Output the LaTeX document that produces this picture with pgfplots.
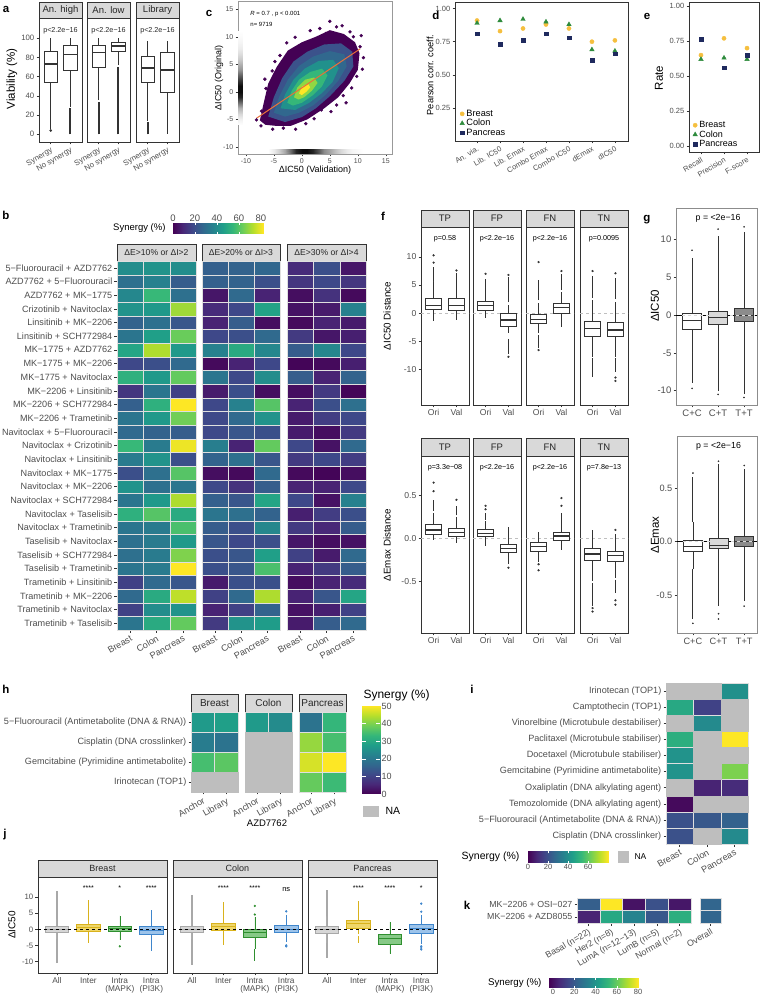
\documentclass[border=0pt]{standalone}
\usepackage{fontspec}
\setmainfont{Liberation Sans}
\usepackage{pgfplots}
\usepackage{pgfplotstable}
\pgfplotsset{compat=1.18}
\usepgfplotslibrary{statistics}
\definecolor{dk}{HTML}{333333}
\definecolor{tk}{HTML}{4D4D4D}
\definecolor{stripc}{HTML}{D9D9D9}
\definecolor{nagray}{HTML}{BEBEBE}
\definecolor{cB}{HTML}{F5BF3F}
\definecolor{cC}{HTML}{2E8B3C}
\definecolor{cP}{HTML}{1F2A5E}
\definecolor{redline}{HTML}{E8703A}
\definecolor{v1}{HTML}{440154}
\definecolor{v2}{HTML}{3B528B}
\definecolor{v3}{HTML}{31688E}
\definecolor{v4}{HTML}{21918C}
\definecolor{v5}{HTML}{35B779}
\definecolor{v6}{HTML}{90D743}
\definecolor{v7}{HTML}{FDE725}
\definecolor{jAllD}{HTML}{A8A8A8}\definecolor{jAllF}{HTML}{D6D6D6}
\definecolor{jIntD}{HTML}{D9B21C}\definecolor{jIntF}{HTML}{EFD66A}
\definecolor{jMapD}{HTML}{2F8F2F}\definecolor{jMapF}{HTML}{86C986}
\definecolor{jPiD}{HTML}{3F86CC}\definecolor{jPiF}{HTML}{9CC3EA}
\definecolor{gT}{HTML}{8C8C8C}
\newcommand{\fs}[1]{\fontsize{#1}{#1}\selectfont}
\pgfplotsset{colormap={wb}{color=(white) color=(black)}}
\pgfplotsset{colormap={vir}{rgb255=(68,1,84) rgb255=(72,40,120) rgb255=(62,73,137) rgb255=(49,104,142) rgb255=(38,130,142) rgb255=(31,158,137) rgb255=(53,183,121) rgb255=(110,206,88) rgb255=(181,222,43) rgb255=(253,231,37)}}
\pgfdeclareplotmark{cellb}{\pgfpathrectangle{\pgfpoint{-13.15pt}{-6.835pt}}{\pgfpoint{26.3pt}{13.67pt}}\pgfusepathqfillstroke}
\pgfdeclareplotmark{cellh}{\pgfpathrectangle{\pgfpoint{-11.75pt}{-10.03pt}}{\pgfpoint{23.5pt}{20.06pt}}\pgfusepathqfillstroke}
\pgfdeclareplotmark{celli}{\pgfpathrectangle{\pgfpoint{-13.67pt}{-8.05pt}}{\pgfpoint{27.33pt}{16.1pt}}\pgfusepathqfillstroke}
\pgfdeclareplotmark{cellk}{\pgfpathrectangle{\pgfpoint{-11.4pt}{-6.25pt}}{\pgfpoint{22.8pt}{12.5pt}}\pgfusepathqfillstroke}
\pgfdeclareplotmark{cello}{\pgfpathrectangle{\pgfpoint{-10.5pt}{-6.25pt}}{\pgfpoint{21pt}{12.5pt}}\pgfusepathqfillstroke}
\pgfplotsset{
 gg/.style={scale only axis, anchor=south west, clip=false,
   axis line style={dk, line width=0.55pt},
   tick style={dk, line width=0.5pt}, tick align=outside, major tick length=2.5pt, tick pos=left,
   ticklabel style={font=\fs{7.8}, text=tk, inner sep=1pt},
   xticklabel style={yshift=-1pt}, yticklabel style={xshift=-1pt},
   /pgf/number format/assume math mode=true,
   boxplot/draw direction=y,
   boxplot/whisker extend=0, boxplot/box extend=0.7},
 xrot/.style={xticklabel style={rotate=30, anchor=north east, inner sep=1pt}},
 hm/.style={gg, colormap name=vir, y dir=reverse, ticklabel style={font=\fs{9.1}}},
 heat/.style={scatter, only marks, point meta=explicit, scatter/use mapped color={draw=white!75!gray, fill=mapped color}, mark options={line width=0.3pt}},
 na/.style={only marks, mark options={draw=nagray, fill=nagray, line width=0.3pt}},
 bA/.style={draw=dk, fill=white, line width=0.75pt, boxplot/every median/.style={line width=1.4pt}},
 jb/.style 2 args={draw=#1, fill=#2, line width=0.6pt, boxplot/every median/.style={line width=1pt}},
 cb/.style={scale only axis, anchor=south west, clip=false, colormap name=vir, axis line style={draw=none}, tick style={draw=none}, ticklabel style={font=\fs{7.5}, text=tk, inner sep=1.5pt}, /pgf/number format/assume math mode=true},
 dots/.style={only marks, mark=*, mark size=0.9pt, dk},
 ol/.style={dk, line width=1.3pt},
}
\newcommand{\bx}[7][bA]{\addplot[#1, boxplot prepared={draw position=#2, lower whisker=#3, lower quartile=#4, median=#5, upper quartile=#6, upper whisker=#7}] coordinates {};}
\newcommand{\strip}[4]{\draw[dk, line width=0.55pt, fill=stripc] (axis description cs:0,1) rectangle ([yshift=#1]axis description cs:1,1); \node[font=\fs{#3}, text=black!85] at ([yshift=#2]axis description cs:0.5,1) {#4};}

\pgfplotstableread{
r B1 C1 P1 B2 C2 P2 B3 C3 P3
0 40 42 40 25 26 27 10 20 5
1 30 36 24 25 26 20 13 18 13
2 38 55 30 5 28 8 3 12 2
3 42 44 70 10 18 47 4 6 36
4 26 30 22 8 24 3 2 8 6
5 32 46 63 18 20 28 14 5 7
6 48 72 44 36 50 38 24 38 18
7 18 20 28 2 8 18 1 2 7
8 52 44 62 32 18 40 24 8 26
9 13 32 16 6 20 3 3 14 1
10 25 52 82 18 36 60 8 20 30
11 32 44 64 18 28 42 6 15 18
12 28 26 24 18 22 20 6 3 14
13 55 34 80 35 8 62 18 4 28
14 34 42 20 26 30 22 14 18 15
15 20 30 60 3 2 28 2 1 3
16 42 30 32 18 12 24 8 8 18
17 32 44 72 25 22 48 18 4 36
18 52 60 50 32 30 26 7 15 20
19 32 34 58 24 20 38 14 9 24
20 30 34 44 22 18 20 5 3 4
21 30 34 66 20 22 46 16 6 28
22 32 34 82 20 22 58 8 14 24
23 16 28 22 6 20 20 3 8 10
24 28 50 74 16 28 72 8 22 48
25 16 40 42 8 16 26 4 7 16
26 32 50 62 14 42 45 6 24 28
}\tabB

\begin{document}
\begin{tikzpicture}[x=1pt,y=1pt]
\useasboundingbox (0,0) rectangle (762,999);
\foreach \t/\x/\y in {a/6/990,b/6/784,c/209/986,d/436/984,e/647/983,f/383/783,g/647/779,h/6/310,i/472/310,j/5/164,k/467/94}
  \node[font=\bfseries\fs{11.5}] at (\x,\y) {\t};
% axis titles
\node[rotate=90,font=\fs{11.5}] at (12,920) {Viability (\%)};
\node[rotate=90,font=\fs{9}] at (219,921) {ΔIC50 (Original)};
\node[font=\fs{9}] at (315,829) {ΔIC50 (Validation)};
\node[rotate=90,font=\fs{9.2}] at (430,924) {Pearson corr. coeff.};
\node[rotate=90,font=\fs{11.5}] at (659,921) {Rate};
\node[rotate=90,font=\fs{9.8}] at (387,683) {ΔIC50 Distance};
\node[rotate=90,font=\fs{9.8}] at (387,454) {ΔEmax Distance};
\node[rotate=90,font=\fs{11.5}] at (655,693) {ΔIC50};
\node[rotate=90,font=\fs{11.5}] at (655,464) {ΔEmax};
\node[rotate=90,font=\fs{10}] at (12,74) {ΔIC50};
\node[font=\fs{9.5}] at (267,176) {AZD7762};

% ================= a
\begin{axis}[gg, at={(39pt,857pt)}, width=43pt, height=124pt, xmin=0.4, xmax=2.6, ymin=-8, ymax=121, ytick={0,20,40,60,80,100}, xtick={1,2}, xticklabels={Synergy,No synergy}, xrot]
\strip{16pt}{8pt}{9.5}{An. high}
\node[font=\fs{7.2}, text=black!85] at (axis cs:1.5,108) {p<2.2e−16};
\addplot[dk, line width=2.4pt] coordinates {(2,0) (2,27)};
\addplot[dots, mark size=1.1pt] coordinates {(1,4)};
\bx{1}{5}{54}{73}{86}{100}
\bx{2}{28}{67}{83}{93}{100}
\end{axis}
\begin{axis}[gg, at={(87pt,857pt)}, width=43pt, height=124pt, xmin=0.4, xmax=2.6, ymin=-8, ymax=121, ytick=\empty, xtick={1,2}, xticklabels={Synergy,No synergy}, xrot]
\strip{16pt}{8pt}{9.5}{An. low}
\node[font=\fs{7.2}, text=black!85] at (axis cs:1.5,108) {p<2.2e−16};
\addplot[dk, line width=2pt] coordinates {(1,0) (1,34)};
\addplot[dk, line width=2.4pt] coordinates {(2,0) (2,70)};
\bx{1}{36}{70}{85}{93}{100}
\bx{2}{72}{86}{92}{96}{100}
\end{axis}
\begin{axis}[gg, at={(136pt,857pt)}, width=43pt, height=124pt, xmin=0.4, xmax=2.6, ymin=-8, ymax=121, ytick=\empty, xtick={1,2}, xticklabels={Synergy,No synergy}, xrot]
\strip{16pt}{8pt}{9.5}{Library}
\node[font=\fs{7.2}, text=black!85] at (axis cs:1.5,108) {p<2.2e−16};
\addplot[dk, line width=2pt] coordinates {(1,0) (1,13)};
\bx{1}{14}{54}{69}{81}{97}
\bx{2}{0}{44}{67}{85}{97}
\end{axis}

% ================= c
\begin{axis}[gg, at={(238pt,845pt)}, width=154pt, height=153pt, xmin=-11.4, xmax=16.1, ymin=-11.3, ymax=16.5, xtick={-10,-5,...,15}, ytick={-10,-5,...,15}, ticklabel style={font=\fs{7}}, axis line style={black!40, line width=0.5pt}, colormap name=wb, point meta min=0, point meta max=1]
\addplot[surf, shader=interp, point meta=explicit] coordinates {
(-6,-11.3) [0] (-5,-11.3) [0.08] (-4,-11.3) [0.18] (-3,-11.3) [0.35] (-2,-11.3) [0.6] (-1,-11.3) [0.85] (0,-11.3) [0.95] (1,-11.3) [0.95] (2,-11.3) [0.85] (3,-11.3) [0.65] (4,-11.3) [0.45] (5,-11.3) [0.35] (6,-11.3) [0.25] (7,-11.3) [0.15] (8,-11.3) [0.08] (9,-11.3) [0.04] (10,-11.3) [0.02] (11,-11.3) [0]

(-6,-10.4) [0] (-5,-10.4) [0.08] (-4,-10.4) [0.18] (-3,-10.4) [0.35] (-2,-10.4) [0.6] (-1,-10.4) [0.85] (0,-10.4) [0.95] (1,-10.4) [0.95] (2,-10.4) [0.85] (3,-10.4) [0.65] (4,-10.4) [0.45] (5,-10.4) [0.35] (6,-10.4) [0.25] (7,-10.4) [0.15] (8,-10.4) [0.08] (9,-10.4) [0.04] (10,-10.4) [0.02] (11,-10.4) [0]
};
\addplot[surf, shader=interp, point meta=explicit] coordinates {
(-11.4,-6) [0] (-11.4,-5) [0.06] (-11.4,-4) [0.15] (-11.4,-3) [0.3] (-11.4,-2) [0.55] (-11.4,-1) [0.85] (-11.4,0) [0.95] (-11.4,1) [0.95] (-11.4,2) [0.8] (-11.4,3) [0.6] (-11.4,4) [0.42] (-11.4,5) [0.3] (-11.4,6) [0.2] (-11.4,7) [0.12] (-11.4,8) [0.07] (-11.4,9) [0.04] (-11.4,10) [0.02] (-11.4,11) [0]

(-10.6,-6) [0] (-10.6,-5) [0.06] (-10.6,-4) [0.15] (-10.6,-3) [0.3] (-10.6,-2) [0.55] (-10.6,-1) [0.85] (-10.6,0) [0.95] (-10.6,1) [0.95] (-10.6,2) [0.8] (-10.6,3) [0.6] (-10.6,4) [0.42] (-10.6,5) [0.3] (-10.6,6) [0.2] (-10.6,7) [0.12] (-10.6,8) [0.07] (-10.6,9) [0.04] (-10.6,10) [0.02] (-10.6,11) [0]
};
\addplot[fill=v1, draw=none] coordinates {(-7.5,-5.2) (-6.8,-2) (-6,1.5) (-4.5,4.5) (-2.5,7.5) (0,9) (2.5,10) (5,11.2) (7.5,10.5) (9.5,9) (10.3,7) (10,4) (8.5,1.5) (6.5,-1) (4,-3) (1,-5) (-2,-6.2) (-4.5,-6.2) (-6.5,-6)};
\addplot[only marks, mark=*, mark size=1.5pt, v1] coordinates {(-8.1,-5.1) (-7.3,-6.2) (-6.6,2.3) (-5.3,3.8) (-3.9,6.6) (-2.7,8.9) (-1.2,9.9) (1.5,11.1) (3.2,11.5) (5,12.8) (6.2,11.8) (7.2,12) (8.6,10.9) (10.4,8.2) (11,6.2) (10.8,4.1) (9.8,2.8) (8.9,0.7) (7.4,-0.7) (6.2,-2.4) (3.5,-3.3) (2.2,-4.9) (0.7,-5.8) (-1.1,-6.8) (-3.3,-6.6) (-5.2,-6.8) (-6.4,0.6) (-7.2,-3.5) (4.3,10.6) (9.2,10) (10.6,10.2) (-4.8,5.5) (7.9,-2) (5.2,-3.6)};
\addplot[fill=v2, draw=none] coordinates {(-6,-4.5) (-5,-1) (-3.5,2.5) (-1.5,5.5) (1,7.3) (4,8.6) (7,8.8) (9,7.3) (9.2,4.6) (7.6,2) (5,-0.8) (2.5,-3) (0,-4.6) (-3,-5.5)};
\addplot[fill=v3, draw=none] coordinates {(-5,-3.8) (-4,-0.8) (-2.5,2.2) (-0.5,4.7) (2,6.4) (5,7.4) (7.6,6.8) (8,4.6) (6.5,2) (4.3,-0.5) (2,-2.5) (-0.5,-3.8) (-3,-4.5)};
\addplot[fill=v4, draw=none] coordinates {(-3.8,-3) (-3,-0.5) (-1.5,2.2) (0.5,4.2) (3,5.6) (5.6,5.8) (6.6,4.3) (5.5,1.8) (3.5,-0.3) (1.3,-2) (-1.2,-3.3)};
\addplot[fill=v5, draw=none] coordinates {(-2.6,-2) (-1.8,0.2) (-0.5,2.2) (1.5,3.6) (3.6,4.2) (4.6,3) (3.6,1) (2,-0.6) (0,-2) (-1.6,-2.5)};
\addplot[fill=v6, draw=none] coordinates {(-1.4,-1) (-0.8,0.8) (0.6,2.2) (2.2,2.6) (2.8,1.6) (1.8,0.2) (0.4,-1) (-0.6,-1.4)};
\addplot[fill=v7, draw=none] coordinates {(-0.5,-0.3) (0,0.9) (1.1,1.5) (1.5,0.8) (0.8,0) (0,-0.6)};
\addplot[redline, line width=1pt] coordinates {(-8.1,-4.8) (10.4,7.8)};
\node[anchor=west, font=\fs{6}] at (axis cs:-9.8,14.2) {\textit{R} = 0.7 , p < 0.001};
\node[anchor=west, font=\fs{6}] at (axis cs:-9.8,12.2) {n= 9719};
\end{axis}

% ================= d
\begin{axis}[gg, at={(455pt,858pt)}, width=173pt, height=139pt, xmin=0.04, xmax=7.57, ymin=0, ymax=1.05, ytick={0.25,0.5,0.75,1}, ticklabel style={font=\fs{7.5}}, yticklabel style={/pgf/number format/fixed, /pgf/number format/fixed zerofill, /pgf/number format/precision=2}, xtick={1,...,7}, xticklabels={An. via., Lib. IC50, Lib. Emax, Combo Emax, Combo IC50, dEmax, dIC50}, xrot, legend style={at={(0.01,0.0)}, anchor=south west, draw=none, fill=none, font=\fs{9.2}, row sep=-2.5pt}, legend cell align=left]
\addplot[only marks, mark=*, mark size=2.1pt, cB] coordinates {(1,0.91) (2,0.83) (3,0.85) (4,0.88) (5,0.85) (6,0.75) (7,0.76)};
\addplot[only marks, mark=triangle*, mark size=2.6pt, cC] coordinates {(1,0.89) (2,0.91) (3,0.92) (4,0.90) (5,0.88) (6,0.69) (7,0.68)};
\addplot[only marks, mark=square*, mark size=1.8pt, cP] coordinates {(1,0.81) (2,0.73) (3,0.76) (4,0.81) (5,0.78) (6,0.61) (7,0.66)};
\legend{Breast,Colon,Pancreas}
\end{axis}

% ================= e
\begin{axis}[gg, at={(689pt,847pt)}, width=70pt, height=150pt, xmin=0.48, xmax=3.52, ymin=-0.043, ymax=1.03, ytick={0,0.25,0.5,0.75,1}, ticklabel style={font=\fs{7.5}}, yticklabel style={/pgf/number format/fixed, /pgf/number format/fixed zerofill, /pgf/number format/precision=2}, xtick={1,2,3}, xticklabels={Recall,Precision,F-score}, xrot, legend style={at={(0.01,0.0)}, anchor=south west, draw=none, fill=none, font=\fs{9}, row sep=-2.5pt}, legend cell align=left]
\addplot[only marks, mark=*, mark size=2.1pt, cB] coordinates {(1,0.65) (2,0.77) (3,0.70)};
\addplot[only marks, mark=triangle*, mark size=2.6pt, cC] coordinates {(1,0.62) (2,0.63) (3,0.62)};
\addplot[only marks, mark=square*, mark size=1.8pt, cP] coordinates {(1,0.765) (2,0.56) (3,0.65)};
\legend{Breast,Colon,Pancreas}
\end{axis}

% ================= b
\begin{axis}[cb, at={(173pt,765pt)}, width=90pt, height=11pt, xmin=0, xmax=82, ymin=0, ymax=1, ytick=\empty, xtick={0,20,40,60,80}, xticklabel pos=upper, ticklabel style={font=\fs{9.5}}, point meta min=0, point meta max=82]
\addplot[surf, shader=interp, point meta=x] coordinates {(0,0) (82,0)

(0,1) (82,1)};
\addplot[white, line width=0.5pt, unbounded coords=jump] coordinates {(20,0) (20,0.2) (nan,nan) (20,0.8) (20,1) (nan,nan) (40,0) (40,0.2) (nan,nan) (40,0.8) (40,1) (nan,nan) (60,0) (60,0.2) (nan,nan) (60,0.8) (60,1)};
\end{axis}
\node[anchor=east, font=\fs{9.5}] at (169,771) {Synergy (\%)};
\begin{axis}[hm, at={(117pt,369pt)}, width=79pt, height=369pt, xmin=-0.5, xmax=2.5, ymin=-0.5, ymax=26.5, point meta min=0, point meta max=82, xtick={0,1,2}, xticklabels={Breast,Colon,Pancreas}, xrot, ytick={0,...,26}, yticklabels={5−Fluorouracil + AZD7762, AZD7762 + 5−Fluorouracil, AZD7762 + MK−1775, Crizotinib + Navitoclax, Linsitinib + MK−2206, Linsitinib + SCH772984, MK−1775 + AZD7762, MK−1775 + MK−2206, MK−1775 + Navitoclax, MK−2206 + Linsitinib, MK−2206 + SCH772984, MK−2206 + Trametinib, Navitoclax + 5−Fluorouracil, Navitoclax + Crizotinib, Navitoclax + Linsitinib, Navitoclax + MK−1775, Navitoclax + MK−2206, Navitoclax + SCH772984, Navitoclax + Taselisib, Navitoclax + Trametinib, Taselisib + Navitoclax, Taselisib + SCH772984, Taselisib + Trametinib, Trametinib + Linsitinib, Trametinib + MK−2206, Trametinib + Navitoclax, Trametinib + Taselisib}]
\addplot[heat, mark=cellb] table[x expr=0, y=r, meta=B1] {\tabB};
\addplot[heat, mark=cellb] table[x expr=1, y=r, meta=C1] {\tabB};
\addplot[heat, mark=cellb] table[x expr=2, y=r, meta=P1] {\tabB};
\strip{17pt}{8.5pt}{8.6}{ΔE>10\% or ΔI>2}
\end{axis}
\begin{axis}[hm, at={(202pt,369pt)}, width=78pt, height=369pt, xmin=-0.5, xmax=2.5, ymin=-0.5, ymax=26.5, point meta min=0, point meta max=82, xtick={0,1,2}, xticklabels={Breast,Colon,Pancreas}, xrot, ytick=\empty]
\addplot[heat, mark=cellb] table[x expr=0, y=r, meta=B2] {\tabB};
\addplot[heat, mark=cellb] table[x expr=1, y=r, meta=C2] {\tabB};
\addplot[heat, mark=cellb] table[x expr=2, y=r, meta=P2] {\tabB};
\strip{17pt}{8.5pt}{8.6}{ΔE>20\% or ΔI>3}
\end{axis}
\begin{axis}[hm, at={(287pt,369pt)}, width=79pt, height=369pt, xmin=-0.5, xmax=2.5, ymin=-0.5, ymax=26.5, point meta min=0, point meta max=82, xtick={0,1,2}, xticklabels={Breast,Colon,Pancreas}, xrot, ytick=\empty]
\addplot[heat, mark=cellb] table[x expr=0, y=r, meta=B3] {\tabB};
\addplot[heat, mark=cellb] table[x expr=1, y=r, meta=C3] {\tabB};
\addplot[heat, mark=cellb] table[x expr=2, y=r, meta=P3] {\tabB};
\strip{17pt}{8.5pt}{8.6}{ΔE>30\% or ΔI>4}
\end{axis}

% ================= f top
\begin{axis}[gg, at={(421pt,594pt)}, width=48pt, height=178pt, xmin=0.45, xmax=2.55, ymin=-16.4, ymax=15.36, ytick={-10,-5,0,5,10}, ticklabel style={font=\fs{8.6}}, xtick={1,2}, xticklabels={Ori,Val}]
\strip{17pt}{8.5pt}{9.5}{TP}
\addplot[gray!50, dashed, line width=0.7pt] coordinates {(0.45,0) (2.55,0)};
\node[font=\fs{7.2}] at (axis cs:1.5,13.2) {p=0.58};
\addplot[ol] coordinates {(1,5.6) (1,8.2)};
\addplot[ol] coordinates {(2,5.7) (2,7.2)};
\addplot[dots] coordinates {(1,9) (1,10.3) (2,7.6)};
\bx{1}{-1.5}{0.6}{1.4}{2.6}{5.6}
\bx{2}{-1.2}{0.5}{1.4}{2.6}{5.7}
\end{axis}
\begin{axis}[gg, at={(473pt,594pt)}, width=48pt, height=178pt, xmin=0.45, xmax=2.55, ymin=-16.4, ymax=15.36, ytick=\empty, ticklabel style={font=\fs{8.6}}, xtick={1,2}, xticklabels={Ori,Val}]
\strip{17pt}{8.5pt}{9.5}{FP}
\addplot[gray!50, dashed, line width=0.7pt] coordinates {(0.45,0) (2.55,0)};
\node[font=\fs{7.2}] at (axis cs:1.5,13.2) {p<2.2e−16};
\addplot[ol] coordinates {(1,4.5) (1,6)};
\addplot[ol] coordinates {(2,1.9) (2,6.4)};
\addplot[ol] coordinates {(2,-4.6) (2,-7.3)};
\addplot[dots] coordinates {(1,7) (2,6.8) (2,-7.8)};
\bx{1}{-0.9}{0.5}{1.3}{2.1}{4.5}
\bx{2}{-3.6}{-2.3}{-1.25}{0}{1.5}
\end{axis}
\begin{axis}[gg, at={(526pt,594pt)}, width=48pt, height=178pt, xmin=0.45, xmax=2.55, ymin=-16.4, ymax=15.36, ytick=\empty, ticklabel style={font=\fs{8.6}}, xtick={1,2}, xticklabels={Ori,Val}]
\strip{17pt}{8.5pt}{9.5}{FN}
\addplot[gray!50, dashed, line width=0.7pt] coordinates {(0.45,0) (2.55,0)};
\node[font=\fs{7.2}] at (axis cs:1.5,13.2) {p<2.2e−16};
\addplot[ol] coordinates {(1,2.3) (1,5.9)};
\addplot[ol] coordinates {(1,-4) (1,-6.2)};
\addplot[ol] coordinates {(2,4.2) (2,7)};
\addplot[dots] coordinates {(1,9.1) (1,-6.6) (2,7.5)};
\bx{1}{-3.6}{-1.9}{-1.1}{-0.2}{1.8}
\bx{2}{-2.4}{0}{0.95}{1.8}{3.8}
\end{axis}
\begin{axis}[gg, at={(580pt,594pt)}, width=48pt, height=178pt, xmin=0.45, xmax=2.55, ymin=-16.4, ymax=15.36, ytick=\empty, ticklabel style={font=\fs{8.6}}, xtick={1,2}, xticklabels={Ori,Val}]
\strip{17pt}{8.5pt}{9.5}{TN}
\addplot[gray!50, dashed, line width=0.7pt] coordinates {(0.45,0) (2.55,0)};
\node[font=\fs{7.2}] at (axis cs:1.5,13.2) {p=0.0095};
\addplot[ol] coordinates {(1,2.7) (1,6.6)};
\addplot[ol] coordinates {(1,-8.1) (1,-11.4)};
\addplot[ol] coordinates {(2,2.5) (2,6.3)};
\addplot[ol] coordinates {(2,-8.1) (2,-10.5)};
\addplot[dots] coordinates {(1,7.5) (2,7.1) (2,-11.5) (2,-12.1)};
\bx{1}{-7.8}{-4.1}{-2.7}{-1.5}{2.3}
\bx{2}{-7.8}{-4.2}{-3.0}{-1.7}{2.0}
\end{axis}

% ================= f bottom
\begin{axis}[gg, at={(421pt,366pt)}, width=48pt, height=177pt, xmin=0.45, xmax=2.55, ymin=-1.1, ymax=0.96, ytick={-0.5,0,0.5}, ticklabel style={font=\fs{8.6}}, yticklabel style={/pgf/number format/fixed, /pgf/number format/fixed zerofill, /pgf/number format/precision=1}, xtick={1,2}, xticklabels={Ori,Val}]
\strip{18pt}{9pt}{9.5}{TP}
\addplot[gray!50, dashed, line width=0.7pt] coordinates {(0.45,0) (2.55,0)};
\node[font=\fs{7.2}] at (axis cs:1.5,0.82) {p=3.3e−08};
\addplot[ol] coordinates {(1,0.32) (1,0.45)};
\addplot[ol] coordinates {(2,0.27) (2,0.38)};
\addplot[dots] coordinates {(1,0.55) (1,0.65) (2,0.45)};
\bx{1}{-0.02}{0.05}{0.1}{0.16}{0.3}
\bx{2}{-0.05}{0.03}{0.07}{0.12}{0.25}
\end{axis}
\begin{axis}[gg, at={(473pt,366pt)}, width=48pt, height=177pt, xmin=0.45, xmax=2.55, ymin=-1.1, ymax=0.96, ytick=\empty, ticklabel style={font=\fs{8.6}}, xtick={1,2}, xticklabels={Ori,Val}]
\strip{18pt}{9pt}{9.5}{FP}
\addplot[gray!50, dashed, line width=0.7pt] coordinates {(0.45,0) (2.55,0)};
\node[font=\fs{7.2}] at (axis cs:1.5,0.82) {p<2.2e−16};
\addplot[ol] coordinates {(1,0.22) (1,0.3)};
\addplot[dots] coordinates {(1,0.34) (1,0.38) (2,-0.34)};
\bx{1}{-0.09}{0.02}{0.06}{0.107}{0.2}
\bx{2}{-0.3}{-0.165}{-0.115}{-0.064}{0.13}
\end{axis}
\begin{axis}[gg, at={(526pt,366pt)}, width=48pt, height=177pt, xmin=0.45, xmax=2.55, ymin=-1.1, ymax=0.96, ytick=\empty, ticklabel style={font=\fs{8.6}}, xtick={1,2}, xticklabels={Ori,Val}]
\strip{18pt}{9pt}{9.5}{FN}
\addplot[gray!50, dashed, line width=0.7pt] coordinates {(0.45,0) (2.55,0)};
\node[font=\fs{7.2}] at (axis cs:1.5,0.82) {p<2.2e−16};
\addplot[ol] coordinates {(2,0.22) (2,0.3)};
\addplot[dots] coordinates {(1,-0.3) (1,-0.37) (2,0.38) (2,0.47)};
\bx{1}{-0.27}{-0.145}{-0.095}{-0.05}{0.07}
\bx{2}{-0.13}{-0.025}{0.03}{0.068}{0.21}
\end{axis}
\begin{axis}[gg, at={(580pt,366pt)}, width=48pt, height=177pt, xmin=0.45, xmax=2.55, ymin=-1.1, ymax=0.96, ytick=\empty, ticklabel style={font=\fs{8.6}}, xtick={1,2}, xticklabels={Ori,Val}]
\strip{18pt}{9pt}{9.5}{TN}
\addplot[gray!50, dashed, line width=0.7pt] coordinates {(0.45,0) (2.55,0)};
\node[font=\fs{7.2}] at (axis cs:1.5,0.82) {p=7.8e−13};
\addplot[ol] coordinates {(1,-0.52) (1,-0.78)};
\addplot[ol] coordinates {(2,-0.48) (2,-0.63)};
\addplot[dots] coordinates {(1,-0.81) (1,-0.85) (2,0.1) (2,-0.72) (2,-0.77)};
\bx{1}{-0.5}{-0.26}{-0.18}{-0.115}{0.1}
\bx{2}{-0.46}{-0.27}{-0.2}{-0.145}{0.05}
\end{axis}

% ================= g
\begin{axis}[gg, at={(676pt,594pt)}, width=81pt, height=197pt, xmin=0.38, xmax=3.5, ymin=-11.9, ymax=14.2, ytick={-10,-5,0,5,10}, ticklabel style={font=\fs{9.5}}, xtick={1,2,3}, xticklabels={C+C,C+T,T+T}, axis line style={black!45}, boxplot/box extend=0.75]
\node[font=\fs{8.8}] at (axis cs:2,12.8) {p = <2e−16};
\addplot[black, line width=0.6pt] coordinates {(0.38,0) (3.5,0)};
\addplot[dk, line width=0.9pt] coordinates {(1,3.2) (1,7.6)};
\addplot[dk, line width=0.9pt] coordinates {(1,-4.9) (1,-9)};
\addplot[dk, line width=0.9pt] coordinates {(2,3.1) (2,10.5)};
\addplot[dk, line width=0.9pt] coordinates {(2,-3.9) (2,-10)};
\addplot[dk, line width=0.9pt] coordinates {(3,3.5) (3,11)};
\addplot[dk, line width=0.9pt] coordinates {(3,-3.5) (3,-10.5)};
\addplot[dots, mark size=0.6pt] coordinates {(1,8.6) (1,-9.7) (2,11.4) (2,-10.5) (3,11.7) (3,-10.9)};
\bx[draw=dk, fill=white, line width=0.7pt]{1}{-4.9}{-1.85}{-0.66}{0.2}{3.2}
\bx[draw=dk, fill=stripc, line width=0.7pt]{2}{-3.9}{-1.23}{-0.35}{0.53}{3.1}
\bx[draw=dk, fill=gT, line width=0.7pt]{3}{-3.5}{-0.88}{0}{0.88}{3.5}
\addplot[white!70!gray, dashed, line width=0.6pt] coordinates {(0.6,0) (3.4,0)};
\end{axis}
\begin{axis}[gg, at={(677pt,366pt)}, width=80pt, height=197pt, xmin=0.38, xmax=3.5, ymin=-0.85, ymax=0.985, ytick={-0.5,0,0.5}, ticklabel style={font=\fs{9.2}}, yticklabel style={/pgf/number format/fixed, /pgf/number format/fixed zerofill, /pgf/number format/precision=1}, xtick={1,2,3}, xticklabels={C+C,C+T,T+T}, axis line style={black!45}, boxplot/box extend=0.75]
\node[font=\fs{8.8}] at (axis cs:2,0.89) {p = <2e−16};
\addplot[black, line width=0.6pt] coordinates {(0.38,0) (3.5,0)};
\addplot[dk, line width=0.9pt] coordinates {(1,0.18) (1,0.6)};
\addplot[dk, line width=0.9pt] coordinates {(1,-0.25) (1,-0.72)};
\addplot[dk, line width=0.9pt] coordinates {(2,0.16) (2,0.72)};
\addplot[dk, line width=0.9pt] coordinates {(2,-0.2) (2,-0.6)};
\addplot[dk, line width=0.9pt] coordinates {(3,0.2) (3,0.68)};
\addplot[dk, line width=0.9pt] coordinates {(3,-0.2) (3,-0.55)};
\addplot[dots, mark size=0.6pt] coordinates {(1,0.64) (1,-0.76) (2,0.75) (2,-0.67) (2,-0.72) (3,0.71) (3,-0.6)};
\bx[draw=dk, fill=white, line width=0.7pt]{1}{-0.25}{-0.093}{-0.04}{0.016}{0.18}
\bx[draw=dk, fill=stripc, line width=0.7pt]{2}{-0.2}{-0.06}{-0.03}{0.03}{0.16}
\bx[draw=dk, fill=gT, line width=0.7pt]{3}{-0.2}{-0.047}{0}{0.053}{0.2}
\addplot[white!70!gray, dashed, line width=0.6pt] coordinates {(0.6,0) (3.4,0)};
\end{axis}

% ================= h
\begin{axis}[hm, at={(191pt,207pt)}, width=47pt, height=80pt, xmin=-0.5, xmax=1.5, ymin=-0.5, ymax=3.5, point meta min=0, point meta max=50, xtick={0,1}, xticklabels={Anchor,Library}, xrot, ytick={0,1,2,3}, yticklabels={5−Fluorouracil (Antimetabolite (DNA \& RNA)), Cisplatin (DNA crosslinker), Gemcitabine (Pyrimidine antimetabolite), Irinotecan (TOP1)}]
\addplot[heat, mark=cellh] coordinates {(0,0) [27] (1,0) [28] (0,1) [21] (1,1) [19] (0,2) [35] (1,2) [37]};
\addplot[na, mark=cellh] coordinates {(0,3) (1,3)};
\strip{18pt}{9pt}{10}{Breast}
\end{axis}
\begin{axis}[hm, at={(245pt,207pt)}, width=47pt, height=80pt, xmin=-0.5, xmax=1.5, ymin=-0.5, ymax=3.5, point meta min=0, point meta max=50, xtick={0,1}, xticklabels={Anchor,Library}, xrot, ytick=\empty]
\addplot[heat, mark=cellh] coordinates {(0,0) [27] (1,0) [24]};
\addplot[na, mark=cellh] coordinates {(0,1) (1,1) (0,2) (1,2) (0,3) (1,3)};
\strip{18pt}{9pt}{10}{Colon}
\end{axis}
\begin{axis}[hm, at={(299pt,207pt)}, width=47pt, height=80pt, xmin=-0.5, xmax=1.5, ymin=-0.5, ymax=3.5, point meta min=0, point meta max=50, xtick={0,1}, xticklabels={Anchor,Library}, xrot, ytick=\empty]
\addplot[heat, mark=cellh] coordinates {(0,0) [19] (1,0) [33] (0,1) [42] (1,1) [35] (0,2) [47] (1,2) [50] (0,3) [38] (1,3) [34]};
\strip{18pt}{9pt}{10}{Pancreas}
\end{axis}
\begin{axis}[cb, at={(362pt,205pt)}, width=18pt, height=88pt, xmin=0, xmax=1, ymin=0, ymax=50, xtick=\empty, ytick={0,10,...,50}, yticklabel pos=right, ticklabel style={font=\fs{9}}, point meta min=0, point meta max=50]
\addplot[surf, shader=interp, point meta=y] coordinates {(0,0) (1,0)

(0,50) (1,50)};
\addplot[white, line width=0.5pt, unbounded coords=jump] coordinates {(0,10) (0.2,10) (nan,nan) (0.8,10) (1,10) (nan,nan) (0,20) (0.2,20) (nan,nan) (0.8,20) (1,20) (nan,nan) (0,30) (0.2,30) (nan,nan) (0.8,30) (1,30) (nan,nan) (0,40) (0.2,40) (nan,nan) (0.8,40) (1,40)};
\end{axis}
\node[anchor=west, font=\fs{12}] at (360,304) {Synergy (\%)};
\fill[nagray] (363,182) rectangle (379,193);
\node[anchor=west, font=\fs{10.5}] at (382,188) {NA};

% ================= i
\begin{axis}[hm, at={(666pt,155pt)}, width=82pt, height=161pt, xmin=-0.5, xmax=2.5, ymin=-0.5, ymax=9.5, point meta min=0, point meta max=80, xtick={0,1,2}, xticklabels={Breast,Colon,Pancreas}, xrot, ytick={0,...,9}, yticklabels={Irinotecan (TOP1), Camptothecin (TOP1), Vinorelbine (Microtubule destabiliser), Paclitaxel (Microtubule stabiliser), Docetaxel (Microtubule stabiliser), Gemcitabine (Pyrimidine antimetabolite), Oxaliplatin (DNA alkylating agent), Temozolomide (DNA alkylating agent), 5−Fluorouracil (Antimetabolite (DNA \& RNA)), Cisplatin (DNA crosslinker)}]
\addplot[heat, mark=celli] coordinates {(2,0) [40] (0,1) [48] (1,1) [16] (1,2) [38] (0,3) [50] (2,3) [80] (0,4) [41] (0,5) [41] (2,5) [64] (1,6) [8] (2,6) [10] (0,7) [2] (0,8) [20] (1,8) [22] (2,8) [25] (0,9) [20] (2,9) [38]};
\addplot[na, mark=celli] coordinates {(0,0) (1,0) (2,1) (0,2) (2,2) (1,3) (1,4) (2,4) (1,5) (0,6) (1,7) (2,7) (1,9)};
\end{axis}
\begin{axis}[cb, at={(528pt,136pt)}, width=80pt, height=12pt, xmin=0, xmax=80, ymin=0, ymax=1, ytick=\empty, xtick={0,20,40,60}, point meta min=0, point meta max=80]
\addplot[surf, shader=interp, point meta=x] coordinates {(0,0) (80,0)

(0,1) (80,1)};
\addplot[white, line width=0.5pt, unbounded coords=jump] coordinates {(20,0) (20,0.2) (nan,nan) (20,0.8) (20,1) (nan,nan) (40,0) (40,0.2) (nan,nan) (40,0.8) (40,1) (nan,nan) (60,0) (60,0.2) (nan,nan) (60,0.8) (60,1)};
\end{axis}
\node[anchor=east, font=\fs{10.5}] at (523,142) {Synergy (\%)};
\fill[nagray] (618,136) rectangle (629,148);
\node[anchor=west, font=\fs{8.5}] at (631,142) {NA};

% ================= j
\begin{axis}[gg, at={(38pt,26pt)}, width=129pt, height=96pt, xmin=0.4, xmax=4.5, ymin=-13.6, ymax=16.3, ytick={-10,-5,0,5,10}, xtick={1,2,3,4}, xticklabels={All,Inter,{Intra\\(MAPK)},{Intra\\(PI3K)}}, xticklabel style={align=center, font=\fs{8.3}}, boxplot/box extend=0.75]
\strip{17pt}{8.5pt}{9}{Breast}
\addplot[jAllD, line width=1.3pt] coordinates {(1,-10.5) (1,12)};
\addplot[jIntD, line width=1.2pt] coordinates {(2,4.6) (2,9)};
\addplot[jIntD, line width=1.2pt] coordinates {(2,-2.8) (2,-4.3)};
\addplot[only marks, mark=*, mark size=0.9pt, jMapD] coordinates {(3,-5.3)};
\addplot[jPiD, line width=1.2pt] coordinates {(4,4.2) (4,6)};
\addplot[jPiD, line width=1.2pt] coordinates {(4,-4.9) (4,-6.6)};
\bx[jb={jAllD}{jAllF}]{1}{-3}{-1.05}{0}{1.0}{3.1}
\bx[jb={jIntD}{jIntF}]{2}{-2.8}{-0.5}{0.6}{1.55}{4.6}
\bx[jb={jMapD}{jMapF}]{3}{-3.3}{-0.75}{0.2}{1.0}{4.3}
\bx[jb={jPiD}{jPiF}]{4}{-4.9}{-1.5}{-0.3}{0.8}{4.2}
\addplot[black, dashed, line width=0.6pt] coordinates {(0.4,0) (4.5,0)};
\node[font=\fs{7}] at (axis cs:2,13) {****};
\node[font=\fs{7}] at (axis cs:3,13) {*};
\node[font=\fs{7}] at (axis cs:4,13) {****};
\end{axis}
\begin{axis}[gg, at={(173pt,26pt)}, width=129pt, height=96pt, xmin=0.4, xmax=4.5, ymin=-13.6, ymax=16.3, ytick=\empty, xtick={1,2,3,4}, xticklabels={All,Inter,{Intra\\(MAPK)},{Intra\\(PI3K)}}, xticklabel style={align=center, font=\fs{8.3}}, boxplot/box extend=0.75]
\strip{17pt}{8.5pt}{9}{Colon}
\addplot[jAllD, line width=1.3pt] coordinates {(1,-11) (1,10.8)};
\addplot[jIntD, line width=1.2pt] coordinates {(2,5.3) (2,8.6)};
\addplot[jIntD, line width=1.2pt] coordinates {(2,-3.1) (2,-5)};
\addplot[jMapD, line width=1.2pt] coordinates {(3,-6) (3,-10)};
\addplot[only marks, mark=*, mark size=0.9pt, jMapD] coordinates {(3,4.6) (3,7.3)};
\addplot[only marks, mark=*, mark size=0.9pt, jPiD] coordinates {(4,5.6) (4,-5) (4,-5.3)};
\bx[jb={jAllD}{jAllF}]{1}{-3}{-1.0}{0.1}{1.0}{3}
\bx[jb={jIntD}{jIntF}]{2}{-3.1}{-0.4}{0.8}{1.9}{5.3}
\bx[jb={jMapD}{jMapF}]{3}{-6}{-2.6}{-1.1}{0.1}{3.9}
\bx[jb={jPiD}{jPiF}]{4}{-3.8}{-0.9}{0}{1.3}{4.5}
\addplot[black, dashed, line width=0.6pt] coordinates {(0.4,0) (4.5,0)};
\node[font=\fs{7}] at (axis cs:2,13) {****};
\node[font=\fs{7}] at (axis cs:3,13) {****};
\node[font=\fs{7.5}] at (axis cs:4,12.3) {ns};
\end{axis}
\begin{axis}[gg, at={(308pt,26pt)}, width=129pt, height=96pt, xmin=0.4, xmax=4.5, ymin=-13.6, ymax=16.3, ytick=\empty, xtick={1,2,3,4}, xticklabels={All,Inter,{Intra\\(MAPK)},{Intra\\(PI3K)}}, xticklabel style={align=center, font=\fs{8.3}}, boxplot/box extend=0.75]
\strip{17pt}{8.5pt}{9}{Pancreas}
\addplot[jAllD, line width=1.3pt] coordinates {(1,-8.8) (1,12.3)};
\addplot[jIntD, line width=1.2pt] coordinates {(2,6.8) (2,8.8)};
\addplot[jIntD, line width=1.2pt] coordinates {(2,-2) (2,-4.2)};
\addplot[only marks, mark=*, mark size=0.9pt, jPiD] coordinates {(4,5.5) (4,8) (4,-5.3) (4,-5.8) (4,-6.3)};
\bx[jb={jAllD}{jAllF}]{1}{-4.3}{-1.2}{0}{1.0}{4}
\bx[jb={jIntD}{jIntF}]{2}{-1.5}{0.3}{1.7}{2.9}{6.8}
\bx[jb={jMapD}{jMapF}]{3}{-7.6}{-4.6}{-3.0}{-1.5}{2.3}
\bx[jb={jPiD}{jPiF}]{4}{-4.5}{-1.3}{0.3}{1.6}{4.6}
\addplot[black, dashed, line width=0.6pt] coordinates {(0.4,0) (4.5,0)};
\node[font=\fs{7}] at (axis cs:2,13) {****};
\node[font=\fs{7}] at (axis cs:3,13) {****};
\node[font=\fs{7}] at (axis cs:4,13) {*};
\end{axis}

% ================= k
\begin{axis}[hm, at={(577pt,76pt)}, width=114pt, height=25pt, xmin=-0.5, xmax=4.5, ymin=-0.5, ymax=1.5, point meta min=0, point meta max=80, ticklabel style={font=\fs{8.8}}, xtick={0,...,4}, xticklabels={Basal (n=22), Her2 (n=8), LumA (n=12−13), LumB (n=5), Normal (n=2)}, xrot, ytick={0,1}, yticklabels={MK−2206 + OSI−027, MK−2206 + AZD8055}]
\addplot[heat, mark=cellk] coordinates {(0,0) [24] (1,0) [80] (2,0) [4] (3,0) [20] (4,0) [5] (0,1) [8] (1,1) [48] (2,1) [36] (3,1) [22] (4,1) [50]};
\end{axis}
\begin{axis}[hm, at={(700pt,76pt)}, width=21pt, height=25pt, xmin=-0.5, xmax=0.5, ymin=-0.5, ymax=1.5, point meta min=0, point meta max=80, ticklabel style={font=\fs{8.8}}, xtick={0}, xticklabels={Overall}, xrot, ytick=\empty]
\addplot[heat, mark=cello] coordinates {(0,0) [26] (0,1) [26]};
\end{axis}
\begin{axis}[cb, at={(549pt,11pt)}, width=89pt, height=10pt, xmin=-3.8, xmax=80, ymin=0, ymax=1, ytick=\empty, xtick={0,20,40,60,80}, point meta min=-3.8, point meta max=80]
\addplot[surf, shader=interp, point meta=x] coordinates {(-3.8,0) (80,0)

(-3.8,1) (80,1)};
\addplot[white, line width=0.5pt, unbounded coords=jump] coordinates {(20,0) (20,0.2) (nan,nan) (20,0.8) (20,1) (nan,nan) (40,0) (40,0.2) (nan,nan) (40,0.8) (40,1) (nan,nan) (60,0) (60,0.2) (nan,nan) (60,0.8) (60,1)};
\end{axis}
\node[anchor=east, font=\fs{9.7}] at (545,16) {Synergy (\%)};
\end{tikzpicture}
\end{document}
